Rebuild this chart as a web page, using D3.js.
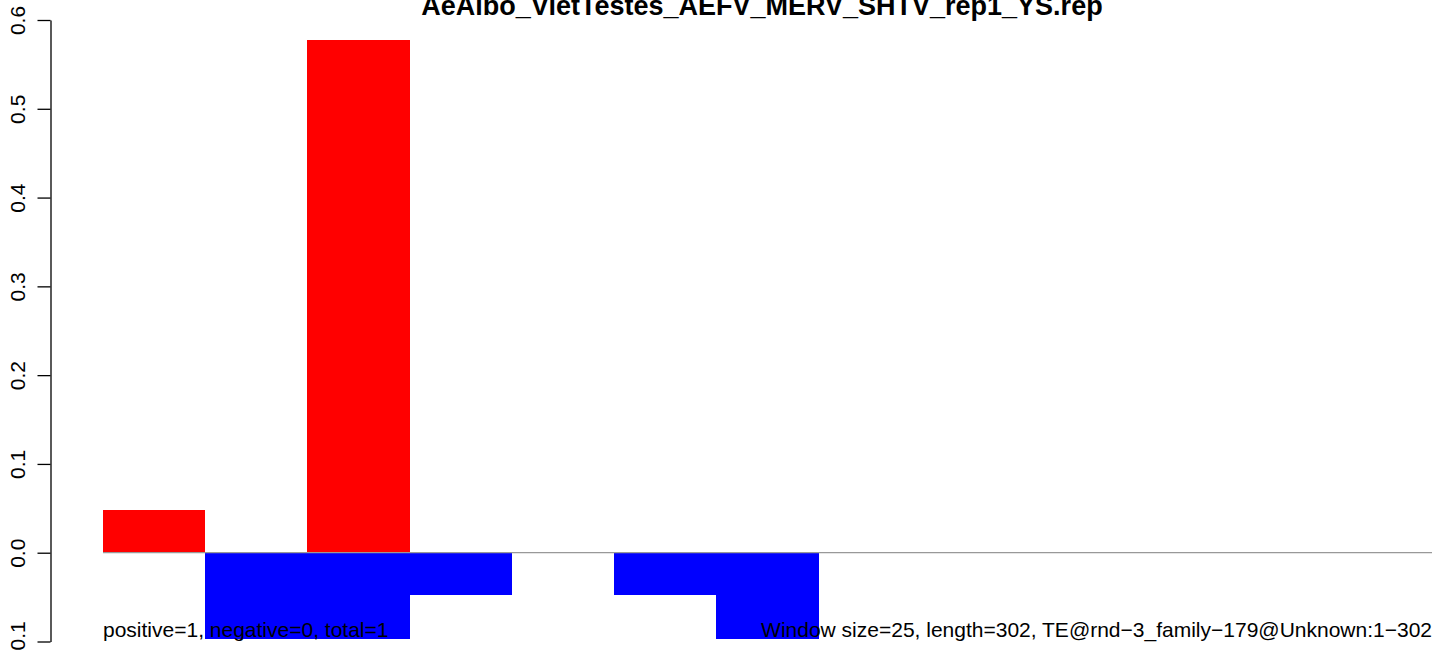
<!DOCTYPE html>
<meta charset="utf-8">
<head>
    <title>TE window plot</title>
    <script src="https://cdn.jsdelivr.net/npm/d3@7"></script>
    <style>
        body { margin: 0; background: #fff; }
        text { font-family: "Liberation Sans", Arial, sans-serif; }
    </style>
</head>
<body>
    <div id="chart"></div>
    <script>
        // data: one bar per 25bp window
        var windows = [0, 1, 2, 3, 4, 5, 6, 7, 8, 9, 10, 11, 12];
        var posValues = [0.048, 0, 0.577, 0, 0, 0, 0, 0, 0, 0, 0, 0, 0];
        var negValues = [0, -0.097, -0.097, -0.048, 0, -0.048, -0.097, 0, 0, 0, 0, 0, 0];
        var yTicks = [-0.1, 0, 0.1, 0.2, 0.3, 0.4, 0.5, 0.6];
        var title = "AeAlbo_VietTestes_AEFV_MERV_SHTV_rep1_YS.rep";
        var leftNote = "positive=1, negative=0, total=1";
        var rightNote = "Window size=25, length=302, TE@rnd\u22123_family\u2212179@Unknown:1\u2212302";

        var width = 1433, height = 650;

        var svg = d3.select("#chart").append("svg")
            .attr("width", width)
            .attr("height", height);

        var x = d3.scaleLinear().domain([0, windows.length]).range([103, 1432]);
        var y = d3.scaleLinear().domain([-0.1, 0.6]).range([641.5, 20]);

        // positive bars
        svg.append("g").attr("shape-rendering", "crispEdges")
            .selectAll("rect")
            .data(windows.filter(i => posValues[i] > 0))
            .enter().append("rect")
            .attr("x", d => x(d))
            .attr("width", d => x(d + 1) - x(d))
            .attr("y", d => y(posValues[d]))
            .attr("height", d => y(0) - y(posValues[d]))
            .attr("fill", "#ff0000");

        // negative bars
        svg.append("g").attr("shape-rendering", "crispEdges")
            .selectAll("rect")
            .data(windows.filter(i => negValues[i] < 0))
            .enter().append("rect")
            .attr("x", d => x(d))
            .attr("width", d => x(d + 1) - x(d))
            .attr("y", y(0))
            .attr("height", d => y(negValues[d]) - y(0))
            .attr("fill", "#0000ff");

        // zero line
        svg.append("line")
            .attr("x1", x(0)).attr("x2", x(windows.length))
            .attr("y1", y(0)).attr("y2", y(0))
            .attr("stroke", "#999")
            .attr("stroke-width", 1.3);

        // y axis, R style
        var yAxis = d3.axisLeft(y)
            .tickValues(yTicks)
            .tickSize(13)
            .tickSizeOuter(0)
            .tickFormat(d3.format(".1f"));

        var gy = svg.append("g")
            .attr("transform", "translate(50.5,0)")
            .call(yAxis);
        gy.select(".domain").attr("stroke", "#000").attr("stroke-width", 1.3);
        gy.selectAll(".tick line").attr("stroke", "#000").attr("stroke-width", 1.3);
        gy.selectAll(".tick text")
            .attr("x", null).attr("dy", null)
            .attr("text-anchor", "middle")
            .attr("font-size", 21)
            .attr("fill", "#000")
            .attr("font-family", "Liberation Sans, Arial, sans-serif")
            .attr("transform", "translate(-26,0) rotate(-90)");

        // title
        svg.append("text")
            .attr("x", 762)
            .attr("y", 15)
            .attr("text-anchor", "middle")
            .attr("font-size", 27)
            .attr("font-weight", "bold")
            .text(title);

        // notes at bottom
        svg.append("text")
            .attr("x", 103)
            .attr("y", 637)
            .attr("font-size", 21)
            .text(leftNote);

        svg.append("text")
            .attr("x", 1432)
            .attr("y", 637)
            .attr("text-anchor", "end")
            .attr("font-size", 21)
            .text(rightNote);
    </script>
</body>
</html>
